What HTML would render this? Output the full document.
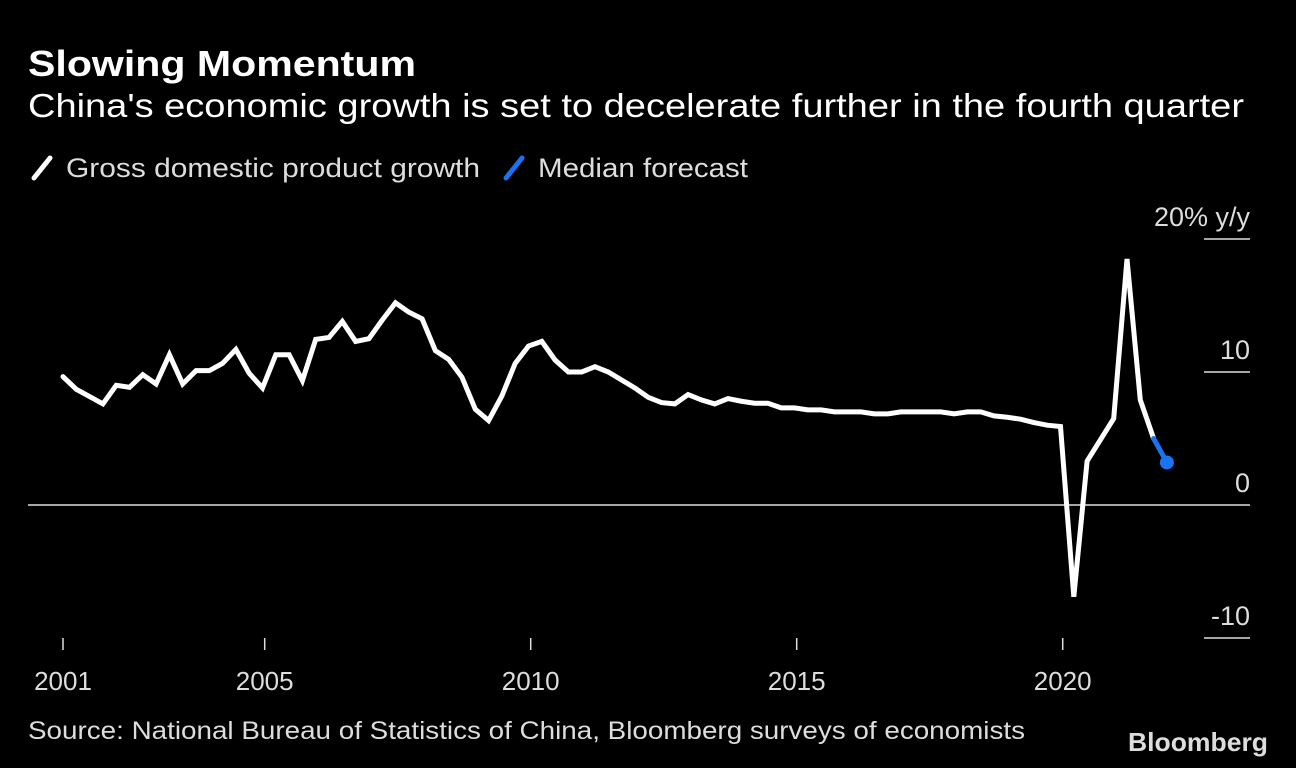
<!DOCTYPE html>
<html><head><meta charset="utf-8"><style>
html,body{margin:0;padding:0;background:#000;}
svg{display:block;font-family:"Liberation Sans",sans-serif;}
</style></head><body>
<svg id="chart" width="1296" height="768" viewBox="0 0 1296 768">
<rect width="1296" height="768" fill="#000"/>
<text x="28" y="76" fill="#fff" font-size="36" font-weight="bold" textLength="388" lengthAdjust="spacingAndGlyphs">Slowing Momentum</text>
<text x="28" y="117" fill="#fff" font-size="33" textLength="1216" lengthAdjust="spacingAndGlyphs">China's economic growth is set to decelerate further in the fourth quarter</text>
<g>
<line x1="34" y1="178" x2="50" y2="158" stroke="#fff" stroke-width="5" stroke-linecap="round"/>
<text x="66" y="177" fill="#ddd" font-size="27" textLength="414" lengthAdjust="spacingAndGlyphs">Gross domestic product growth</text>
<line x1="506" y1="178" x2="522" y2="158" stroke="#1a73f0" stroke-width="5" stroke-linecap="round"/>
<text x="538" y="177" fill="#ddd" font-size="27" textLength="210" lengthAdjust="spacingAndGlyphs">Median forecast</text>
</g>
<g id="yaxis"></g>
<g id="xaxis"></g>
<g id="plot"></g>
<text x="28" y="739" fill="#ddd" font-size="25" textLength="997" lengthAdjust="spacingAndGlyphs">Source: National Bureau of Statistics of China, Bloomberg surveys of economists</text>
<text x="1268" y="751" fill="#ddd" font-size="26" font-weight="bold" text-anchor="end" textLength="140" lengthAdjust="spacingAndGlyphs">Bloomberg</text>
</svg>
<script>
const gdpValues = [9.65,8.7,8.15,7.6,9.0,8.85,9.8,9.1,11.3,9.1,10.1,10.1,10.65,11.7,9.9,8.8,11.3,11.3,9.35,12.45,12.6,13.8,12.3,12.5,13.9,15.2,14.5,14.0,11.6,10.95,9.6,7.2,6.35,8.2,10.65,11.95,12.3,10.9,10.0,10.0,10.4,10.0,9.4,8.8,8.1,7.7,7.6,8.3,7.9,7.6,8.0,7.8,7.65,7.65,7.3,7.3,7.15,7.15,7.0,7.0,7.0,6.85,6.85,7.0,7.0,7.0,7.0,6.85,7.0,7.0,6.7,6.6,6.45,6.2,6.0,5.9,-6.9,3.3,4.9,6.5,18.5,7.9,5.0];
const forecastStartIndex = 82;
const forecastValues = [5.0,3.2];
const yTicks = [-10,0,10,20];
const yTickLabels = ["-10","0","10","20% y/y"];
const xTickYears = [2001,2005,2010,2015,2020];
const xTickLabels = ["2001","2005","2010","2015","2020"];

const NS="http://www.w3.org/2000/svg";
function y(v){return 505-13.3*v;}
function xIdx(i){return 63+13.3*i;}          // quarterly points, i=0 -> 2001Q1
function xYear(yr){return 530.7+53.2*(yr-2010);}
function xTick(yr){return yr===2001?xIdx(0):xYear(yr);}
function mk(tag,attrs,parent){const e=document.createElementNS(NS,tag);for(const k in attrs)e.setAttribute(k,attrs[k]);parent.appendChild(e);return e;}

const yaxis=document.getElementById('yaxis');
yTicks.forEach((t,i)=>{
  const l=mk('line',{x1:1204,x2:1250,y1:y(t)+ (t===0?0:0),y2:y(t),stroke:'#ddd','stroke-width':1.5},yaxis);
  
  
  if(t===0){l.setAttribute('x1',28);}
  const tx=mk('text',{x:1250,y:y(t)-13,fill:'#ddd','font-size':27,'text-anchor':'end'},yaxis);
  tx.textContent=yTickLabels[i];
  
  
});
const xaxis=document.getElementById('xaxis');
xTickYears.forEach((yr,i)=>{
  const x=xTick(yr);
  const l=mk('line',{x1:x,x2:x,y1:638,y2:650,stroke:'#ddd','stroke-width':1.5},xaxis);
  
  
  const tx=mk('text',{x:x,y:690,fill:'#ddd','font-size':26,'text-anchor':'middle'},xaxis);
  tx.textContent=xTickLabels[i];
  
  
});
const plot=document.getElementById('plot');
const gp=mk('polyline',{points:gdpValues.map((v,i)=>xIdx(i)+','+y(v)).join(' '),fill:'none',stroke:'#fff','stroke-width':5,'stroke-linejoin':'miter','stroke-linecap':'round'},plot);


const fp=mk('polyline',{points:forecastValues.map((v,i)=>xIdx(forecastStartIndex+i)+','+y(v)).join(' '),fill:'none',stroke:'#1a73f0','stroke-width':5,'stroke-linecap':'round'},plot);


const last=forecastValues.length-1;
const dot=mk('circle',{cx:xIdx(forecastStartIndex+last),cy:y(forecastValues[last]),r:7,fill:'#1a73f0'},plot);


</script>
</body></html>
